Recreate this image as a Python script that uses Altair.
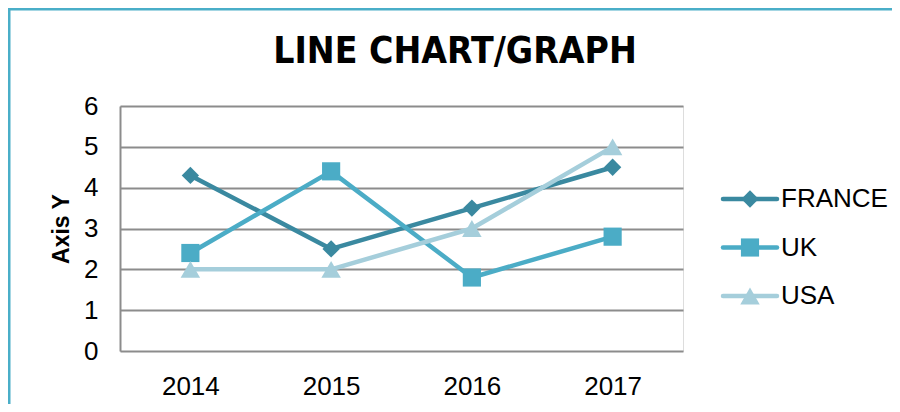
import altair as alt
import pandas as pd

# ---- data ----
years = ["2014", "2015", "2016", "2017"]
series = ["FRANCE", "UK", "USA"]
france = [4.3, 2.5, 3.5, 4.5]
uk = [2.4, 4.4, 1.8, 2.8]
usa = [2.0, 2.0, 3.0, 5.0]
y_ticks = [0, 1, 2, 3, 4, 5, 6]
title_text = "LINE CHART/GRAPH"

colors = ["#3A89A0", "#4BACC6", "#A5CEDB"]
shapes = ["diamond", "square", "triangle-up"]
sizes = [300, 330, 380]

values = {"FRANCE": france, "UK": uk, "USA": usa}
rows = []
for s in series:
    for yr, v in zip(years, values[s]):
        rows.append({"year": yr, "series": s, "value": v})
df = pd.DataFrame(rows)

W, H = 563, 245
FONT = "Liberation Sans"
TITLE_FONT = "'Liberation Sans Narrow', 'DejaVu Sans Condensed', sans-serif"

color_scale = alt.Scale(domain=series, range=colors)
shape_scale = alt.Scale(domain=series, range=shapes)

x_enc = alt.X("year:O", scale=alt.Scale(domain=years, padding=0.5),
              axis=alt.Axis(title=None, labelAngle=0, ticks=False, domain=False,
                            labelPadding=22, labelFont=FONT, labelFontSize=26,
                            labelColor="#000000", grid=False))
y_enc = alt.Y("value:Q", scale=alt.Scale(domain=[0, 6], nice=False),
              axis=alt.Axis(title="Axis Y", values=y_ticks, ticks=False,
                            domain=True, domainColor="#8C8C8C", domainWidth=2,
                            grid=True, gridColor="#8C8C8C", gridWidth=2,
                            labelPadding=22, labelFont=FONT, labelFontSize=26,
                            labelColor="#000000", titleFont=FONT,
                            titleFontSize=23, titleFontWeight="bold",
                            titleColor="#000000", titlePadding=10))

layers = []
for i, s in enumerate(series):
    base = alt.Chart(df).transform_filter(alt.datum.series == s)
    line = base.mark_line(strokeWidth=4.5, strokeCap="round", strokeJoin="round").encode(
        x=x_enc, y=y_enc,
        color=alt.Color("series:N", scale=color_scale, legend=None))
    pts = base.mark_point(filled=True, opacity=1, size=sizes[i]).encode(
        x=x_enc, y=y_enc,
        color=alt.Color("series:N", scale=color_scale, legend=None),
        shape=alt.Shape("series:N", scale=shape_scale, legend=None))
    layers += [line, pts]

# ---- custom legend (own scales) ----
leg_rows = []
for r, s in enumerate(series):
    for p in [0.0, 1.0]:
        leg_rows.append({"series": s, "row": r, "pos": p})
leg_df = pd.DataFrame(leg_rows)
leg_pts = pd.DataFrame({"series": series, "row": [0, 1, 2], "pos": [0.5] * 3,
                        "tpos": [1.0] * 3})

lx = alt.Scale(domain=[0, 1], range=[603, 657])
ly = alt.Scale(domain=[0, 2], range=[93, 190])

leg_line = alt.Chart(leg_df).mark_line(strokeWidth=4.5, strokeCap="round").encode(
    x=alt.X("pos:Q", scale=lx, axis=None),
    y=alt.Y("row:Q", scale=ly, axis=None),
    detail="series:N",
    color=alt.Color("series:N", scale=color_scale, legend=None))
leg_sym_layers = []
for i, s in enumerate(series):
    leg_sym_layers.append(
        alt.Chart(leg_pts).transform_filter(alt.datum.series == s)
        .mark_point(filled=True, opacity=1, size=sizes[i]).encode(
            x=alt.X("pos:Q", scale=lx, axis=None),
            y=alt.Y("row:Q", scale=ly, axis=None),
            color=alt.Color("series:N", scale=color_scale, legend=None),
            shape=alt.Shape("series:N", scale=shape_scale, legend=None)))
leg_text = alt.Chart(leg_pts).mark_text(align="left", baseline="middle", dx=4,
                                         font=FONT, fontSize=26,
                                         color="#000000").encode(
    x=alt.X("tpos:Q", scale=lx, axis=None),
    y=alt.Y("row:Q", scale=ly, axis=None),
    text="series:N")

legend = alt.layer(leg_line, *leg_sym_layers, leg_text)

# ---- title and outer frame (decorative) ----
one = pd.DataFrame({"t": [title_text]})
title = alt.Chart(one).mark_text(font=TITLE_FONT, fontSize=37, fontWeight="bold",
                                 color="#000000", align="center",
                                 baseline="middle").encode(
    x=alt.value(335), y=alt.value(-54), text="t:N")
frame_left = alt.Chart(one).mark_rule(color="#4AAEC8", strokeWidth=3).encode(
    x=alt.value(-111), y=alt.value(-98), y2=alt.value(H + 60))
frame_top = alt.Chart(one).mark_rule(color="#4AAEC8", strokeWidth=3).encode(
    x=alt.value(-112), x2=alt.value(W + 215), y=alt.value(-97))

main = alt.layer(*layers)

chart = alt.layer(main, legend, title, frame_left, frame_top).resolve_scale(
    x="independent", y="independent"
).properties(
    width=W, height=H,
    autosize=alt.AutoSizeParams(type="none"),
    padding={"left": 112, "top": 98, "right": 209, "bottom": 53},
).configure_view(stroke=None).configure(background="#FFFFFF")

chart.save("out.html", embed_options={"renderer": "svg", "actions": False})
